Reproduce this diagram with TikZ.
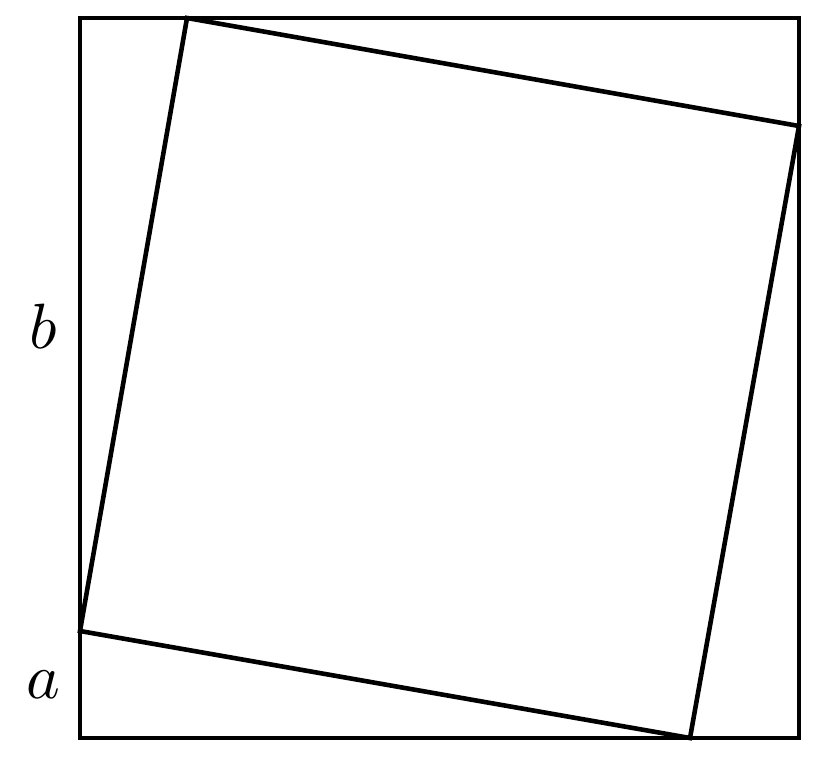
\documentclass[tikz,border=0pt]{standalone}
\begin{document}
\begin{tikzpicture}[x=1pt,y=-1pt,
  edge/.style={line width=4.6pt,line join=miter},
  lbl/.style={inner sep=0pt,scale=6.4}]
\useasboundingbox (0,0) rectangle (822,760);
\coordinate (O1) at (80,18);
\coordinate (O2) at (799,18);
\coordinate (O3) at (799,738);
\coordinate (O4) at (80,738);
\coordinate (P1) at (80,631);
\coordinate (P2) at (690,738);
\coordinate (P3) at (799,126);
\coordinate (P4) at (187,18);
\draw[edge] (O1) -- (O2) -- (O3) -- (O4) -- cycle;
\draw[edge] (P1) -- (P2) -- (P3) -- (P4) -- cycle;
\node[lbl] (lb) at (43,326) {$b$};
\node[lbl] (la) at (43,685) {$a$};
\end{tikzpicture}
\end{document}
